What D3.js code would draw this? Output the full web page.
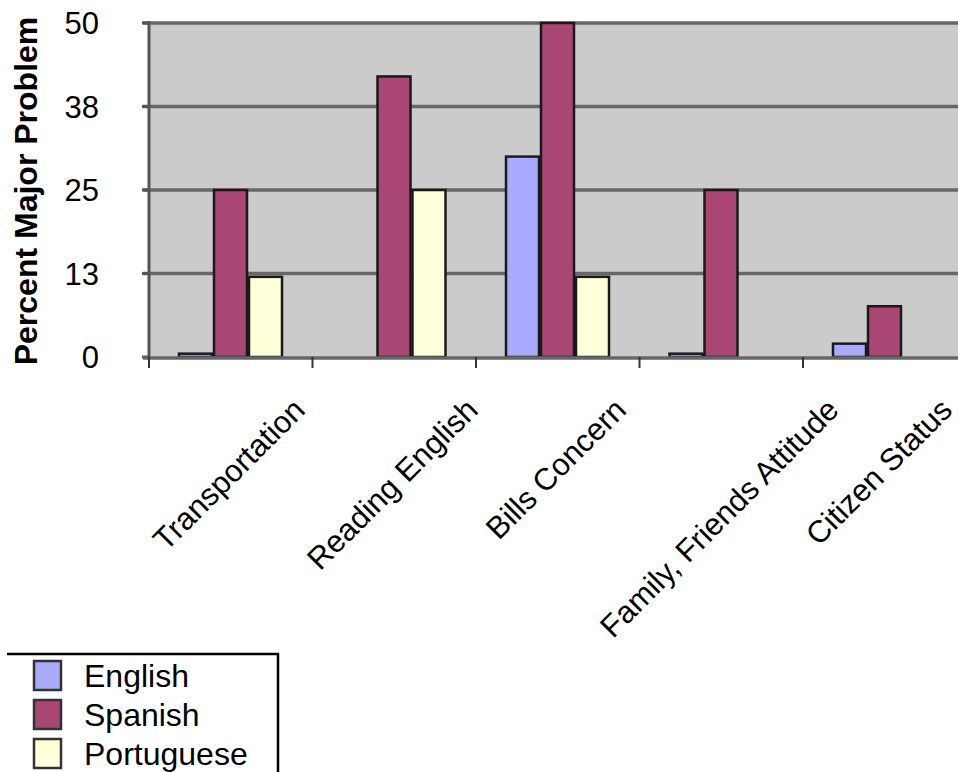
<!DOCTYPE html>
<html><head><meta charset="utf-8">
<script src="https://cdn.jsdelivr.net/npm/d3@7"></script>
<style>html,body{margin:0;padding:0;background:#fff;overflow:hidden}</style>
</head><body>
<script>
const categories = ["Transportation","Reading English","Bills Concern","Family, Friends Attitude","Citizen Status"];
const seriesNames = ["English","Spanish","Portuguese"];
const english    = [0.5, 0, 30, 0.5, 2];
const spanish    = [25, 42, 50, 25, 7.6];
const portuguese = [12, 25, 12, 0, 0];
const yTicks = [0, 12.5, 25, 37.5, 50];
const yTickLabels = ["0","13","25","38","50"];
const colors = ["#aaaaff","#a94673","#ffffd9"];
const seriesValues = [english, spanish, portuguese];

(function(){
const W = 958, H = 772;
const svg = d3.select("body").append("svg").attr("width", W).attr("height", H)
  .style("font-family","'Liberation Sans', Arial, sans-serif");

const pLeft = 149, pTop = 23, pBottom = 357, catW = 163.5;
const x0 = d3.scaleBand().domain(categories).range([pLeft, pLeft + catW*categories.length]).padding(0);
const x1 = d3.scaleBand().domain(seriesNames).range([29, 29+105]).padding(0);
const y = d3.scaleLinear().domain([0,50]).range([pBottom, pTop]);

svg.append("rect").attr("x", pLeft).attr("y", pTop).attr("width", W-pLeft+20).attr("height", pBottom-pTop).attr("fill","#cbcbcb");

svg.append("g").selectAll("line").data(yTicks.filter(d=>d>0)).join("line")
  .attr("x1", pLeft-6).attr("x2", W+10).attr("y1", d=>y(d)).attr("y2", d=>y(d))
  .attr("stroke","#676767").attr("stroke-width",3.5);

svg.append("g").selectAll("text").data(yTicks).join("text")
  .attr("x", 99).attr("y", d=>y(d)).attr("dy","0.36em").attr("text-anchor","end")
  .attr("font-size",31).attr("fill","#000").text((d,i)=>yTickLabels[i]);

svg.append("g").selectAll("line").data(yTicks).join("line")
  .attr("x1", pLeft-7).attr("x2", pLeft).attr("y1", d=>y(d)).attr("y2", d=>y(d))
  .attr("stroke","#555").attr("stroke-width",3);

const rows = categories.map((c,i)=>({cat:c, vals: seriesNames.map((s,j)=>({s, j, v: seriesValues[j][i]}))}));
const g = svg.append("g");
rows.forEach(r=>{
  g.selectAll(null).data(r.vals.filter(d=>d.v>0)).join("rect")
    .attr("x", d=>x0(r.cat)+x1(d.s)+1).attr("width", x1.bandwidth()-2)
    .attr("y", d=>y(d.v)).attr("height", d=>Math.max(0.5, pBottom - y(d.v)))
    .attr("fill", d=>colors[d.j]).attr("stroke","#1a1a1a").attr("stroke-width",2.5);
});

svg.append("line").attr("x1", pLeft-6).attr("x2", W+10).attr("y1", pBottom+1).attr("y2", pBottom+1)
  .attr("stroke","#666").attr("stroke-width",3.5);
svg.append("line").attr("x1", pLeft).attr("x2", pLeft).attr("y1", pTop-2).attr("y2", pBottom+2)
  .attr("stroke","#555").attr("stroke-width",3);

const bounds = categories.map(c=>x0(c)).concat([x0(categories[categories.length-1])+x0.bandwidth()]);
svg.append("g").selectAll("line").data(bounds).join("line")
  .attr("x1", d=>d).attr("x2", d=>d).attr("y1", pBottom).attr("y2", pBottom+11)
  .attr("stroke","#333").attr("stroke-width",2);

const fs = 31, asc = 0.72*fs, desc = 0.21*fs;
svg.append("g").selectAll("text").data(categories).join("text")
  .attr("font-size", fs).attr("text-anchor","end").attr("fill","#000")
  .text(d=>d)
  .each(function(d){
    const L = this.getComputedTextLength();
    const cx = x0(d) + x0.bandwidth()/2;
    let ax = cx + 0.3535*(L + asc - desc);
    ax = Math.min(ax, W - 4);
    const ay = 396 + 0.707*asc;
    d3.select(this).attr("transform", `translate(${ax},${ay}) rotate(-45)`);
  });

svg.append("text").attr("transform","translate(37,191) rotate(-90)")
  .attr("text-anchor","middle").attr("font-size",32).attr("font-weight","bold")
  .text("Percent Major Problem");

const lg = svg.append("g");
lg.append("path").attr("d","M7,654 H278 V780").attr("fill","none").attr("stroke","#000").attr("stroke-width",2.5);
seriesNames.forEach((s,i)=>{
  lg.append("rect").attr("x",34).attr("y",661+i*39).attr("width",27).attr("height",29)
    .attr("fill",colors[i]).attr("stroke","#333").attr("stroke-width",2.5);
  lg.append("text").attr("x",84).attr("y",687+i*39).attr("font-size",32).text(s);
});
})();
</script>
</body></html>
